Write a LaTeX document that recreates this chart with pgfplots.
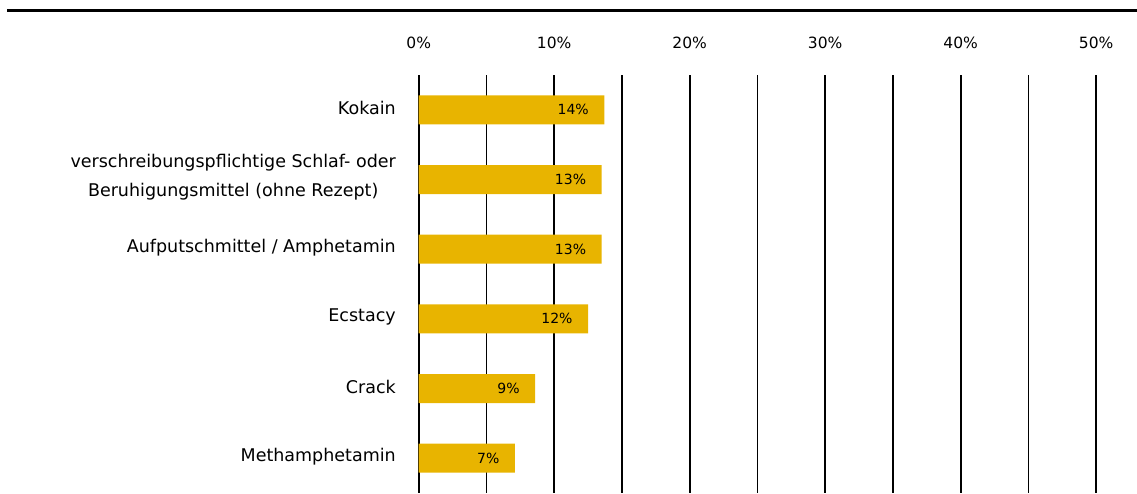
\documentclass[border=0pt]{standalone}
\usepackage{pgfplots}
\pgfplotsset{compat=1.18}
\usepackage{pgfplotstable}
\usepackage{fontspec}
\setmainfont{DejaVu Sans}
\definecolor{barcol}{RGB}{232,180,0}

% idx value label
\pgfplotstableread{
idx v lab
0 13.7 14
1 13.5 13
2 13.5 13
3 12.5 12
4 8.6 9
5 7.1 7
}\drugs

\begin{document}
\begin{tikzpicture}
\path[use as bounding box] (0pt,0pt) rectangle (1137pt,493pt);
\begin{axis}[
    at={(418.7pt,0pt)}, anchor=south west,
    scale only axis,
    width=677.5pt, height=418pt,
    xmin=0, xmax=50,
    ymin=-0.5, ymax=5.5,
    y dir=reverse,
    axis line style={draw=none},
    major tick length=0pt, minor tick length=0pt,
    xtick={0,10,20,30,40,50},
    xticklabels={0\%,10\%,20\%,30\%,40\%,50\%},
    minor xtick={5,15,25,35,45},
    xticklabel pos=upper,
    xticklabel style={font=\fontsize{15.5}{18}\selectfont, anchor=base, inner sep=0pt, yshift=27pt},
    xmajorgrids, xminorgrids,
    major grid style={black, line width=1.6pt},
    minor grid style={black, line width=1.6pt},
    ytick={0,1,2,3,4,5},
    yticklabels={Kokain,{verschreibungspflichtige Schlaf- oder\\Beruhigungsmittel (ohne Rezept)},Aufputschmittel / Amphetamin,Ecstacy,Crack,Methamphetamin},
    yticklabel style={font=\fontsize{17.5}{29}\selectfont, align=center, anchor=east, inner sep=0pt, xshift=-22.7pt, yshift=2pt},
    xbar, bar width=29pt,
    point meta=explicit symbolic,
    nodes near coords={\pgfplotspointmeta\%},
    every node near coord/.append style={font=\fontsize{14}{16}\selectfont, anchor=east, xshift=-12pt, black},
    clip=false,
]
\addplot[fill=barcol, draw=none] table[x=v, y=idx, meta=lab] {\drugs};
\end{axis}
\draw[line width=3.3pt] (7pt,482.3pt) -- (1137pt,482.3pt);
\end{tikzpicture}
\end{document}
